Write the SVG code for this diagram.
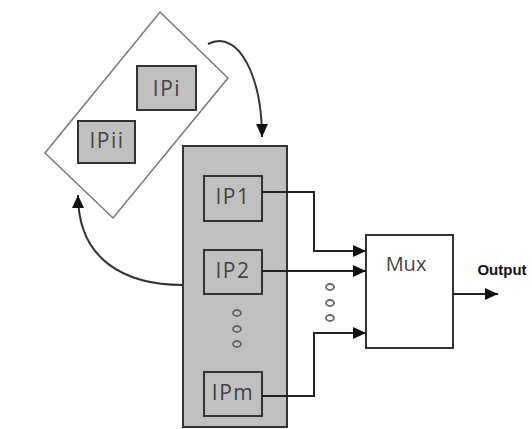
<svg xmlns="http://www.w3.org/2000/svg" width="532" height="429" viewBox="0 0 532 429">
<defs>
<style>
.ipbox{fill:#c0c0c0;stroke:#333;stroke-width:2}
.lbl{font-family:"Open Sans","DejaVu Sans",sans-serif;font-size:21px;fill:#444;text-anchor:middle;letter-spacing:1.5px}
.wire{fill:none;stroke:#222;stroke-width:2}
.curve{fill:none;stroke:#333;stroke-width:2}
.dot{fill:none;stroke:#666;stroke-width:1.8}
</style>
<marker id="ah" markerUnits="userSpaceOnUse" markerWidth="14" markerHeight="12" refX="13" refY="6" orient="auto">
<path d="M0,0 L13,6 L0,12 z" fill="#111"/>
</marker>
</defs>
<rect width="532" height="429" fill="#fff"/>

<g id="pool">
<polygon points="160,12 228,78 113,218 45,153" fill="#fff" stroke="#777" stroke-width="1.5"/>
</g>
<g id="ipi">
<rect class="ipbox" x="137" y="66" width="59" height="44"/>
<text class="lbl" x="167" y="96">IPi</text>
</g>
<g id="ipii">
<rect class="ipbox" x="78" y="121" width="57" height="42"/>
<text class="lbl" x="107" y="148">IPii</text>
</g>

<g id="bank">
<rect x="183" y="146" width="104" height="281" fill="#c0c0c0" stroke="#333" stroke-width="2"/>
<ellipse class="dot" cx="237" cy="313" rx="4" ry="3"/>
<ellipse class="dot" cx="237" cy="329" rx="4" ry="3"/>
<ellipse class="dot" cx="237" cy="344" rx="4" ry="3"/>
</g>
<g id="ip1">
<rect class="ipbox" x="204" y="176" width="58" height="45"/>
<text class="lbl" x="233" y="204">IP1</text>
</g>
<g id="ip2">
<rect class="ipbox" x="204" y="250" width="58" height="44"/>
<text class="lbl" x="233" y="278">IP2</text>
</g>
<g id="ipm">
<rect class="ipbox" x="204" y="372" width="58" height="44"/>
<text class="lbl" x="233" y="400">IPm</text>
</g>

<g id="mux">
<rect x="366" y="235" width="87" height="113" fill="#fff" stroke="#333" stroke-width="2"/>
<text class="lbl" x="406" y="271" style="letter-spacing:0;font-size:20px">Mux</text>
</g>

<g id="output">
<text x="502" y="275" font-family="Liberation Sans, Arial, sans-serif" font-size="15" font-weight="bold" fill="#111" text-anchor="middle">Output</text>
</g>

<g id="connectors">
<path class="wire" d="M262,192 H314 V251 H366" marker-end="url(#ah)"/>
<path class="wire" d="M262,271 H366" marker-end="url(#ah)"/>
<path class="wire" d="M262,396 H314 V333 H366" marker-end="url(#ah)"/>
<path class="wire" d="M453,294 H498" marker-end="url(#ah)"/>
<path class="curve" d="M208,44 C240,28 262,80 262,137" marker-end="url(#ah)"/>
<path class="curve" d="M183,285 C125,285 78,260 78,195" marker-end="url(#ah)"/>
<ellipse class="dot" cx="330" cy="287" rx="4" ry="3"/>
<ellipse class="dot" cx="330" cy="303" rx="4" ry="3"/>
<ellipse class="dot" cx="330" cy="318" rx="4" ry="3"/>
</g>
</svg>
